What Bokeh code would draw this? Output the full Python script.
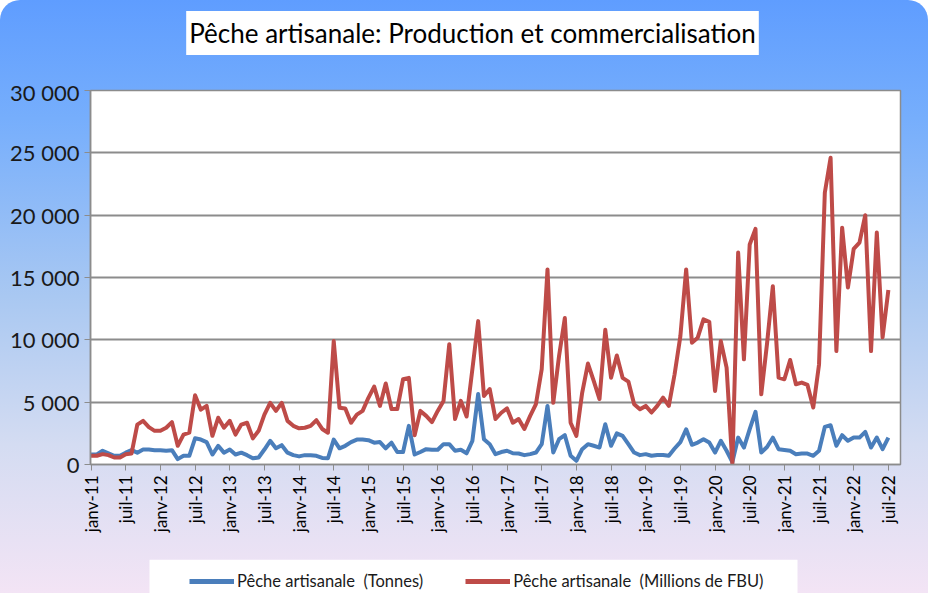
from bokeh.plotting import figure
from bokeh.layouts import column
from bokeh.models import Range1d, FixedTicker, Legend, LegendItem, Label, BoxAnnotation
from bokeh.embed import file_html
from bokeh.resources import INLINE

# ---- data (monthly, janv-11 .. juil-22) ----
tonnes = [800, 800, 1100, 900, 700, 700, 950, 1150, 950, 1200, 1200, 1150,
          1150, 1100, 1150, 430, 700, 700, 2100, 2000, 1800, 800, 1500, 950,
          1200, 800, 950, 750, 500, 560, 1200, 1900, 1300, 1550, 950, 750,
          650, 750, 750, 700, 530, 500, 2000, 1300, 1500, 1800, 2000, 2000,
          1950, 1750, 1800, 1300, 1750, 1000, 1000, 3100, 800, 1000, 1230, 1180,
          1180, 1630, 1630, 1100, 1180, 900, 1900, 5650, 2030, 1630, 830, 1000,
          1100, 900, 880, 750, 830, 960, 1630, 4700, 960, 2030, 2350, 700,
          300, 1230, 1630, 1500, 1360, 3230, 1500, 2500, 2300, 1630, 960, 750,
          830, 700, 770, 770, 700, 1280, 1800, 2830, 1580, 1760, 2030, 1760,
          960, 1900, 1100, 200, 2160, 1360, 2830, 4220, 960, 1400, 2150, 1230,
          1170, 1100, 830, 880, 880, 700, 1100, 3020, 3150, 1500, 2350, 1900,
          2160, 2160, 2620, 1360, 2160, 1230, 2160]
fbu = [700, 700, 830, 750, 560, 560, 830, 880, 3200, 3500, 3000, 2700,
       2700, 2950, 3400, 1500, 2400, 2550, 5550, 4400, 4700, 2300, 3750, 2950,
       3500, 2400, 3200, 3350, 2100, 2700, 4000, 4950, 4300, 4950, 3500, 3100,
       2900, 2950, 3100, 3550, 2850, 2550, 9900, 4550, 4500, 3350, 4000, 4300,
       5350, 6250, 4700, 6500, 4450, 4450, 6850, 6950, 2350, 4300, 3900, 3400,
       4300, 5100, 9650, 3650, 5100, 3850, 7650, 11500, 5500, 6050, 3650, 4150,
       4500, 3350, 3650, 2850, 3900, 4850, 7650, 15650, 4950, 8700, 11750, 3350,
       2300, 5750, 8100, 6700, 5250, 10800, 6950, 8750, 6950, 6650, 4830, 4430,
       4700, 4170, 4700, 5370, 4700, 7240, 10300, 15650, 9770, 10170, 11640, 11450,
       5900, 9900, 7770, 0, 17000, 8440, 17650, 18900, 5630, 9700, 14300, 6970,
       6840, 8380, 6440, 6570, 6380, 4570, 8030, 21800, 24600, 9100, 19000, 14200,
       17300, 17800, 20000, 9100, 18600, 10200, 14000]
months = list(range(len(fbu)))

tick_months = [0, 6, 12, 18, 24, 30, 36, 42, 48, 54, 60, 66, 72, 78, 84, 90,
               96, 102, 108, 114, 120, 126, 132, 138]
tick_labels = ["janv-11", "juil-11", "janv-12", "juil-12", "janv-13", "juil-13",
               "janv-14", "juil-14", "janv-15", "juil-15", "janv-16", "juil-16",
               "janv-17", "juil-17", "janv-18", "juil-18", "janv-19", "juil-19",
               "janv-20", "juil-20", "janv-21", "juil-21", "janv-22", "juil-22"]
y_ticks = [0, 5000, 10000, 15000, 20000, 25000, 30000]
y_labels = ["0", "5 000", "10 000", "15 000", "20 000", "25 000", "30 000"]

title_text = "Pêche artisanale: Production et commercialisation"
name_t = "Pêche artisanale  (Tonnes)"
name_f = "Pêche artisanale  (Millions de FBU)"

FONT = "Lato"
BLUE = "#4a7ebb"
RED = "#be4b48"
GRID = "#8c8c8c"
XR = (-0.1, 140.1)


def strip(height, top, bottom, y_range=(0, 1)):
    f = figure(width=928, height=height, output_backend="svg", toolbar_location=None,
               x_range=Range1d(*XR), y_range=Range1d(*y_range))
    f.min_border_left = 90
    f.min_border_right = 28
    f.min_border_top = top
    f.min_border_bottom = bottom
    f.border_fill_color = None
    f.background_fill_color = None
    f.outline_line_color = None
    f.axis.visible = False
    f.grid.visible = False
    return f


# ---- title strip ----
t = strip(78, 0, 0)
t.add_layout(Label(x=382, y=45.5, x_units="screen", y_units="screen",
                   text=title_text, text_align="center", text_baseline="middle",
                   text_font=FONT, text_font_size="26px", text_color="black",
                   background_fill_color="white", padding=(3, 6)))

# ---- main chart ----
p = figure(width=928, height=462, output_backend="svg", toolbar_location=None,
           x_range=Range1d(*XR), y_range=Range1d(0, 30000))
p.min_border_left = 90
p.min_border_right = 28
p.min_border_top = 12
p.min_border_bottom = 76
p.border_fill_color = None
p.background_fill_color = "white"
p.outline_line_color = GRID
p.outline_line_width = 1.5

p.xgrid.visible = False
p.ygrid.ticker = FixedTicker(ticks=y_ticks)
p.ygrid.grid_line_color = GRID
p.ygrid.grid_line_width = 2

p.yaxis.ticker = FixedTicker(ticks=y_ticks)
p.yaxis.major_label_overrides = {v: s for v, s in zip(y_ticks, y_labels)}
p.yaxis.major_label_text_font = FONT
p.yaxis.major_label_text_font_size = "22px"
p.yaxis.major_label_text_color = "#1a1a1a"
p.yaxis.axis_line_color = GRID
p.yaxis.axis_line_width = 1.5
p.yaxis.major_tick_line_color = GRID
p.yaxis.major_tick_out = 6
p.yaxis.major_tick_in = 0
p.yaxis.minor_tick_line_color = None

p.xaxis.ticker = FixedTicker(ticks=tick_months)
p.xaxis.major_label_overrides = {v: s for v, s in zip(tick_months, tick_labels)}
p.xaxis.major_label_orientation = 1.5708
p.xaxis.major_label_text_font = FONT
p.xaxis.major_label_text_font_size = "17px"
p.xaxis.major_label_text_color = "black"
p.xaxis.axis_line_color = GRID
p.xaxis.axis_line_width = 1.5
p.xaxis.major_tick_line_color = GRID
p.xaxis.major_tick_out = 6
p.xaxis.major_tick_in = 0
p.xaxis.minor_tick_line_color = None

p.line(months, tonnes, line_color=BLUE, line_width=4, line_join="round")
p.line(months, fbu, line_color=RED, line_width=4, line_join="round")

# ---- legend strip ----
q = strip(53, 19, 0, y_range=(-2, -1))
q.add_layout(BoxAnnotation(left=59, right=707, bottom=0, top=34,
                           left_units="screen", right_units="screen",
                           bottom_units="screen", top_units="screen",
                           fill_color="white", fill_alpha=1, line_color=None,
                           level="underlay"))
# series drawn out of this strip's view; only their legend glyphs show
lt = q.line(months, tonnes, line_color=BLUE, line_width=5)
lf = q.line(months, fbu, line_color=RED, line_width=5)
legend = Legend(items=[LegendItem(label=name_t, renderers=[lt]),
                       LegendItem(label=name_f, renderers=[lf])],
                orientation="horizontal", location=(99, 2),
                label_text_font=FONT, label_text_font_size="16.5px",
                label_text_color="#1a1a1a", glyph_width=45, glyph_height=20,
                label_standoff=3, spacing=42, padding=5, margin=0,
                background_fill_alpha=0, border_line_color=None)
q.add_layout(legend, "center")

layout = column(t, p, q, spacing=0, styles={
    "background": "linear-gradient(to bottom, #5f9dff 0%, #76aefc 20%, #a9c8f2 50%, #d4dcf2 75%, #f3e4f5 100%)",
    "border-radius": "20px 20px 0 0"})

open("out.html", "w").write(file_html(layout, INLINE))
